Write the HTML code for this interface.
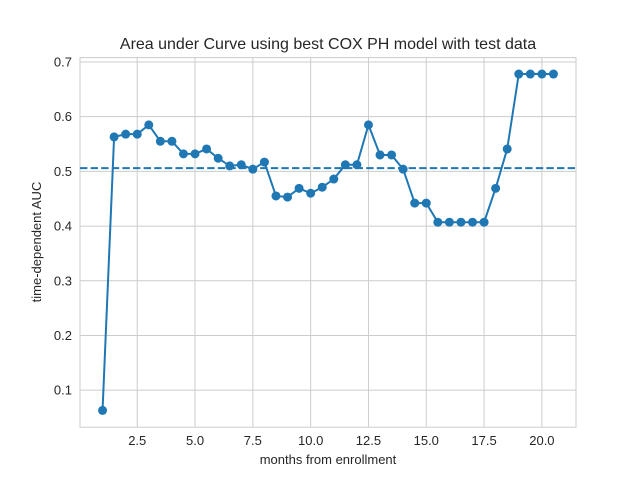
<!DOCTYPE html>
<html><head><meta charset="utf-8"><style>
body{margin:0;background:#fff;}
svg{display:block;font-family:"Liberation Sans",Arial,sans-serif;}
</style></head><body>
<svg id="chart" width="640" height="480" viewBox="0 0 640 480">
<rect x="0" y="0" width="640" height="480" fill="#fff"/>
<g id="grid"></g>
<g id="ticks"></g>
<rect x="80" y="57.6" width="496" height="369.6" fill="none" stroke="#cccccc" stroke-width="1"/>
<g id="series"></g>
<text x="328" y="49" text-anchor="middle" font-size="16" fill="#262626">Area under Curve using best COX PH model with test data</text>
<text x="328" y="464" text-anchor="middle" font-size="13" fill="#262626">months from enrollment</text>
<text x="0" y="0" transform="translate(41,242) rotate(-90)" text-anchor="middle" font-size="13" fill="#262626">time-dependent AUC</text>
</svg>
<script>
const months=[1,1.5,2,2.5,3,3.5,4,4.5,5,5.5,6,6.5,7,7.5,8,8.5,9,9.5,10,10.5,11,11.5,12,12.5,13,13.5,14,14.5,15,15.5,16,16.5,17,17.5,18,18.5,19,19.5,20,20.5];
const auc=[0.063,0.563,0.568,0.568,0.585,0.555,0.555,0.532,0.532,0.541,0.524,0.510,0.512,0.504,0.517,0.455,0.453,0.469,0.460,0.471,0.486,0.512,0.512,0.585,0.530,0.530,0.504,0.442,0.442,0.407,0.407,0.407,0.407,0.407,0.469,0.541,0.678,0.678,0.678,0.678];
const meanAuc=0.506;
const xTicks=[2.5,5.0,7.5,10.0,12.5,15.0,17.5,20.0];
const yTicks=[0.1,0.2,0.3,0.4,0.5,0.6,0.7];
const L=80,R=576,T=57.6,B=427.2;
const xmin=0.025,xmax=21.475,ymin=0.0323,ymax=0.708;
const sx=v=>L+(v-xmin)/(xmax-xmin)*(R-L);
const sy=v=>B-(v-ymin)/(ymax-ymin)*(B-T);
const NS="http://www.w3.org/2000/svg";
function mk(tag,attrs,parent){const e=document.createElementNS(NS,tag);for(const k in attrs)e.setAttribute(k,attrs[k]);parent.appendChild(e);return e;}
const grid=document.getElementById('grid'),ticks=document.getElementById('ticks'),series=document.getElementById('series');
xTicks.forEach(t=>{const x=sx(t);
 const g=mk('line',{x1:x,x2:x,y1:T,y2:B,stroke:'#cccccc','stroke-width':1},grid);
 
 
 const tx=mk('text',{x:x,y:B+18,'text-anchor':'middle','font-size':13,fill:'#262626'},ticks);
 tx.textContent=t.toFixed(1);
 
 
});
yTicks.forEach(t=>{const y=sy(t);
 const g=mk('line',{x1:L,x2:R,y1:y,y2:y,stroke:'#cccccc','stroke-width':1},grid);
 
 
 const tx=mk('text',{x:L-8,y:y+4.5,'text-anchor':'end','font-size':13,fill:'#262626'},ticks);
 tx.textContent=t.toFixed(1);
 
 
});
const ml=mk('line',{x1:L,x2:R,y1:sy(meanAuc),y2:sy(meanAuc),stroke:'#1f77b4','stroke-width':2,'stroke-dasharray':'7.4,3.2'},series);


const pl=mk('polyline',{points:months.map((m,i)=>sx(m)+','+sy(auc[i])).join(' '),fill:'none',stroke:'#1f77b4','stroke-width':2},series);


months.forEach((m,i)=>{const c=mk('circle',{cx:sx(m),cy:sy(auc[i]),r:4.5,fill:'#1f77b4'},series);
 
 
});
</script>
</body></html>
